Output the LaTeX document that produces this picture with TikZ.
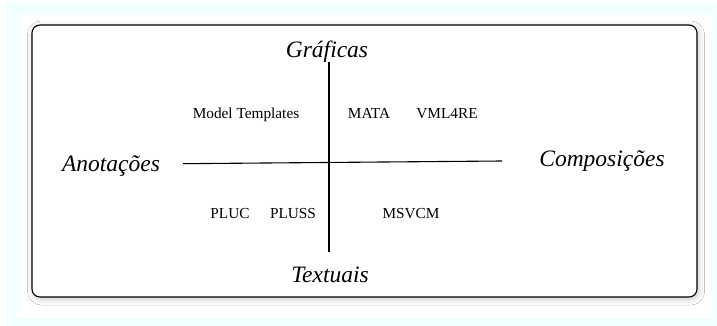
\documentclass[tikz,border=0pt]{standalone}
\usepackage{fontspec}
\setmainfont{Liberation Serif}
\usetikzlibrary{shadows.blur}
\definecolor{bgcyan}{HTML}{F0FFFF}
\tikzset{
  axis/.style={draw=black, line width=1.1pt},
  biglabel/.style={font=\fontsize{23.5}{27}\selectfont\itshape, inner sep=0pt, anchor=base},
  smalllabel/.style={font=\fontsize{15.3}{18}\selectfont, inner sep=0pt, anchor=base},
}
\begin{document}
\begin{tikzpicture}[x=1pt,y=-1pt]
\useasboundingbox (0,0) rectangle (717,326);
\fill[white] (0,0) rectangle (717,326);
\fill[bgcyan] (5,3) rectangle (717,326);
\fill[white] (17,15) rectangle (711,318);
\node[draw=black, line width=1.1pt, rounded corners=8pt, fill=white,
  minimum width=665pt, minimum height=272pt, inner sep=0pt,
  blur shadow={shadow xshift=1.5pt, shadow yshift=-2pt, shadow blur radius=6pt, shadow opacity=22}]
  (frame) at (364.5,161) {};
\coordinate (vtop) at (329,62);
\coordinate (vbot) at (329,252);
\coordinate (hl) at (183,163.7);
\coordinate (hr) at (502,161);
\draw[axis] (vtop) -- (vbot);
\draw[axis] (hl) -- (hr);
\node[biglabel] (graf) at (327,58) {Gráficas};
\node[biglabel] (anot) at (111,171) {Anotações};
\node[biglabel] (comp) at (602,166) {Composições};
\node[biglabel] (text) at (330,282) {Textuais};
\node[smalllabel] (mt) at (246,118) {Model Templates};
\node[smalllabel] (mata) at (369,118) {MATA};
\node[smalllabel] (vml) at (447,118) {VML4RE};
\node[smalllabel] (pluc) at (230,218) {PLUC};
\node[smalllabel] (pluss) at (293,218) {PLUSS};
\node[smalllabel] (msvcm) at (411,218) {MSVCM};
\end{tikzpicture}
\end{document}
